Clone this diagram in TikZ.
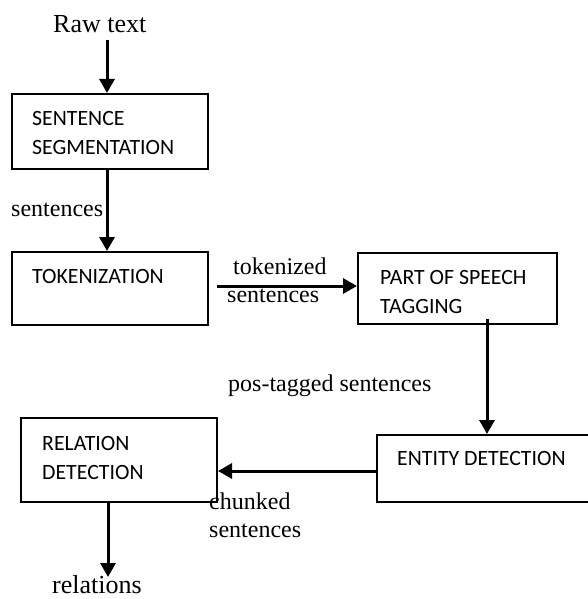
\documentclass[tikz,border=0pt]{standalone}
\usepackage{fontspec}
\setmainfont{Liberation Serif}
\newfontfamily\calfont{Carlito}
\usetikzlibrary{arrows.meta}
\begin{document}
\begin{tikzpicture}[x=1pt,y=-1pt,
  box/.style={draw,line width=2pt,inner sep=0pt,minimum width=#1},
  boxtxt/.style={anchor=base west,inner sep=0pt,align=left,font=\calfont\fontsize{21.8}{29}\selectfont},
  lbl/.style={anchor=base west,inner sep=0pt,align=left,font=\fontsize{24}{27.5}\selectfont},
  biglbl/.style={anchor=base west,inner sep=0pt,font=\fontsize{26}{28}\selectfont},
  arr/.style={line width=3pt,-{Triangle[length=14pt,width=15pt]}}]
\useasboundingbox (0,0) rectangle (587,599);

% boxes
\node[box=196pt,minimum height=75pt] (ss)  at (110,131.5) {};
\node[box=196pt,minimum height=73pt] (tok) at (110,288.5) {};
\node[box=199pt,minimum height=71pt] (pos) at (457.5,288.5) {};
\node[box=223pt,minimum height=67pt] (ent) at (488.5,468.5) {};
\node[box=196pt,minimum height=84pt] (rel) at (119,460) {};

% box texts (base anchor = baseline of the last line)
\node[boxtxt] (ssT)  at (32,154) {SENTENCE\\SEGMENTATION};
\node[boxtxt] (tokT) at (32,283) {TOKENIZATION};
\node[boxtxt] (posT) at (380,313) {PART OF SPEECH\\TAGGING};
\node[boxtxt] (entT) at (397,465) {ENTITY DETECTION};
\node[boxtxt] (relT) at (42,479) {RELATION\\DETECTION};

% free labels
\node[biglbl] (raw) at (53,33) {Raw text};
\node[lbl] (l1) at (11,216) {sentences};
\node[lbl] (l2) at (227,302) {\hspace*{6pt}tokenized\\sentences};
\node[lbl] (l3) at (228,391) {pos-tagged sentences};
\node[lbl] (l4) at (209,537) {chunked\\sentences};
\node[biglbl] (out) at (52,593) {relations};

% connectors
\coordinate (rawout) at (107,40);
\draw[arr] (rawout) -- (rawout |- ss.north);
\draw[arr] ([xshift=-3pt]ss.south) -- ([xshift=-3pt]tok.north);
\draw[arr] ([shift={(8,-2.5)}]tok.east) -- ([shift={(0,-2.5)}]pos.west);
\draw[arr] ([shift={(29.5,-6)}]pos.south) -- ([xshift=-1.5pt]ent.north);
\draw[arr] ([shift={(0,2.5)}]ent.west) -- ([shift={(0,11)}]rel.east);
\draw[arr] ([xshift=-11pt]rel.south) -- ([xshift=-11pt,yshift=-74pt]rel.south);
\end{tikzpicture}
\end{document}
